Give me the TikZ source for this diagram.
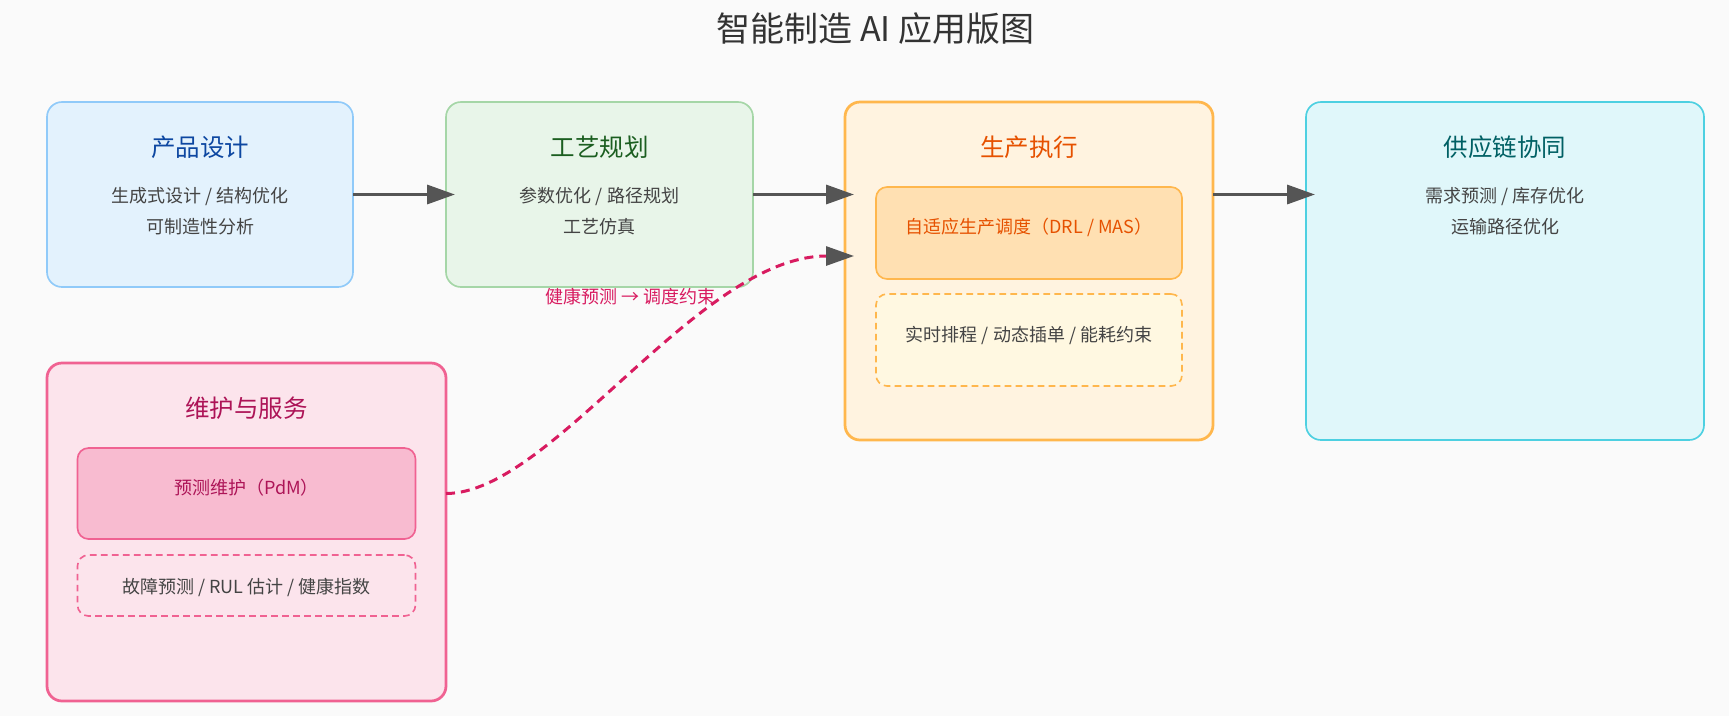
\documentclass[tikz,border=0pt]{standalone}
\usepackage{fontspec}
\setmainfont{Noto Sans CJK SC}
\usetikzlibrary{arrows.meta,positioning,calc}
\definecolor{pagebg}{HTML}{FAFAFA}
\definecolor{titlegray}{HTML}{333333}
\definecolor{bodygray}{HTML}{444444}
\definecolor{arrowgray}{HTML}{555555}
\definecolor{linkred}{HTML}{D81B60}
\definecolor{designfill}{HTML}{E3F2FD}
\definecolor{designedge}{HTML}{90CAF9}
\definecolor{designtext}{HTML}{0D47A1}
\definecolor{processfill}{HTML}{E8F5E9}
\definecolor{processedge}{HTML}{A5D6A7}
\definecolor{processtext}{HTML}{1B5E20}
\definecolor{prodfill}{HTML}{FFF3E0}
\definecolor{prodedge}{HTML}{FFB74D}
\definecolor{prodtext}{HTML}{E65100}
\definecolor{schedfill}{HTML}{FFE0B2}
\definecolor{rtfill}{HTML}{FFF8E1}
\definecolor{supplyfill}{HTML}{E0F7FA}
\definecolor{supplyedge}{HTML}{4DD0E1}
\definecolor{supplytext}{HTML}{006064}
\definecolor{mntfill}{HTML}{FCE4EC}
\definecolor{mntedge}{HTML}{F06292}
\definecolor{mnttext}{HTML}{AD1457}
\definecolor{pdmfill}{HTML}{F8BBD0}

\begin{document}
\begin{tikzpicture}[x=1pt,y=-1pt,
  stage/.style={rectangle,rounded corners=15pt,line width=1.65pt,inner sep=0pt,outer sep=0pt},
  mainstage/.style={stage,line width=2.75pt},
  subbox/.style={rectangle,rounded corners=11pt,line width=1.65pt,inner sep=0pt,outer sep=0pt,
                 minimum width=306pt},
  dashbox/.style={subbox,dash pattern=on 6.6pt off 4.4pt},
  stagetitle/.style={font=\fontsize{24.5pt}{29pt}\selectfont},
  bodytext/.style={font=\fontsize{18pt}{31pt}\selectfont,text=bodygray,align=center},
  flow/.style={-{Triangle[length=28pt,width=19pt]},line width=3.3pt,draw=arrowgray,shorten >=-9pt},
  link/.style={-{Triangle[length=28pt,width=19pt,color=arrowgray]},line width=3pt,draw=linkred,
               dash pattern=on 9pt off 6pt,shorten >=-9pt}]
  \useasboundingbox (0,0) rectangle (1729,716);
  \fill[pagebg] (0,0) rectangle (1729,716);

  \node[stage,draw=designedge,fill=designfill,minimum width=306pt,minimum height=185pt,
        anchor=north west] (design) at (47,102) {};
  \node[stage,draw=processedge,fill=processfill,minimum width=307pt,minimum height=185pt,
        right=93pt of design.north east,anchor=north west] (process) {};
  \node[mainstage,draw=prodedge,fill=prodfill,minimum width=368pt,minimum height=338pt,
        right=92pt of process.north east,anchor=north west] (prod) {};
  \node[stage,draw=supplyedge,fill=supplyfill,minimum width=398pt,minimum height=338pt,
        right=93pt of prod.north east,anchor=north west] (supply) {};
  \node[mainstage,draw=mntedge,fill=mntfill,minimum width=399pt,minimum height=338pt,
        below=76pt of design.south west,anchor=north west] (mnt) {};

  \node[subbox,draw=prodedge,fill=schedfill,minimum height=92pt,below=85pt of prod.north] (sched) {};
  \node[dashbox,draw=prodedge,fill=rtfill,minimum height=92pt,below=15pt of sched] (realtime) {};
  \node[subbox,draw=mntedge,fill=pdmfill,minimum width=338pt,minimum height=91pt,
        below=85pt of mnt.north] (pdm) {};
  \node[dashbox,draw=mntedge,fill=mntfill,minimum width=338pt,minimum height=61pt,
        below=16pt of pdm] (fault) {};

  \node[font=\fontsize{34pt}{40pt}\selectfont,text=titlegray] (title)
    at ($(design.north west)!0.5!(supply.north east)+(0,-73)$) {智能制造 AI 应用版图};

  \node[stagetitle,text=designtext] (designtitle) at ($(design.north)+(0,45.5)$) {产品设计};
  \node[bodytext] (designbody) at ($(design.north)+(0,109)$) {生成式设计 / 结构优化\\可制造性分析};
  \node[stagetitle,text=processtext] (processtitle) at ($(process.north)+(0,45.5)$) {工艺规划};
  \node[bodytext] (processbody) at ($(process.north)+(0,109)$) {参数优化 / 路径规划\\工艺仿真};
  \node[stagetitle,text=prodtext] (prodtitle) at ($(prod.north)+(0,45.5)$) {生产执行};
  \node[bodytext,text=prodtext] (schedtext) at ($(sched.north)+(0,40)$) {自适应生产调度（DRL / MAS）};
  \node[bodytext] (realtimetext) at ($(realtime.north)+(0,41)$) {实时排程 / 动态插单 / 能耗约束};
  \node[stagetitle,text=supplytext] (supplytitle) at ($(supply.north)+(0,45.5)$) {供应链协同};
  \node[bodytext] (supplybody) at ($(supply.north)+(0,109)$) {需求预测 / 库存优化\\运输路径优化};
  \node[stagetitle,text=mnttext] (mnttitle) at ($(mnt.north)+(0,45)$) {维护与服务};
  \node[bodytext,text=mnttext] (pdmtext) at ($(pdm.north)+(0,40)$) {预测维护（PdM）};
  \node[bodytext] (faulttext) at ($(fault.north)+(0,32)$) {故障预测 / RUL 估计 / 健康指数};

  \draw[flow] (design) -- (process);
  \draw[flow] (process.east) -- (process.east -| prod.west);
  \draw[flow] (process.east -| prod.east) -- (process.east -| supply.west);
  % health forecast feeds the scheduler
  \path (prod.west |- sched) ++(0,23) coordinate (hin);
  \draw[link] (mnt.east |- pdm) .. controls +(106,0) and +(-147,0) .. (hin)
    node[pos=0.5,yshift=78pt,font=\fontsize{18pt}{21pt}\selectfont,text=linkred] (linklabel)
    {健康预测 → 调度约束};
\end{tikzpicture}
\end{document}
